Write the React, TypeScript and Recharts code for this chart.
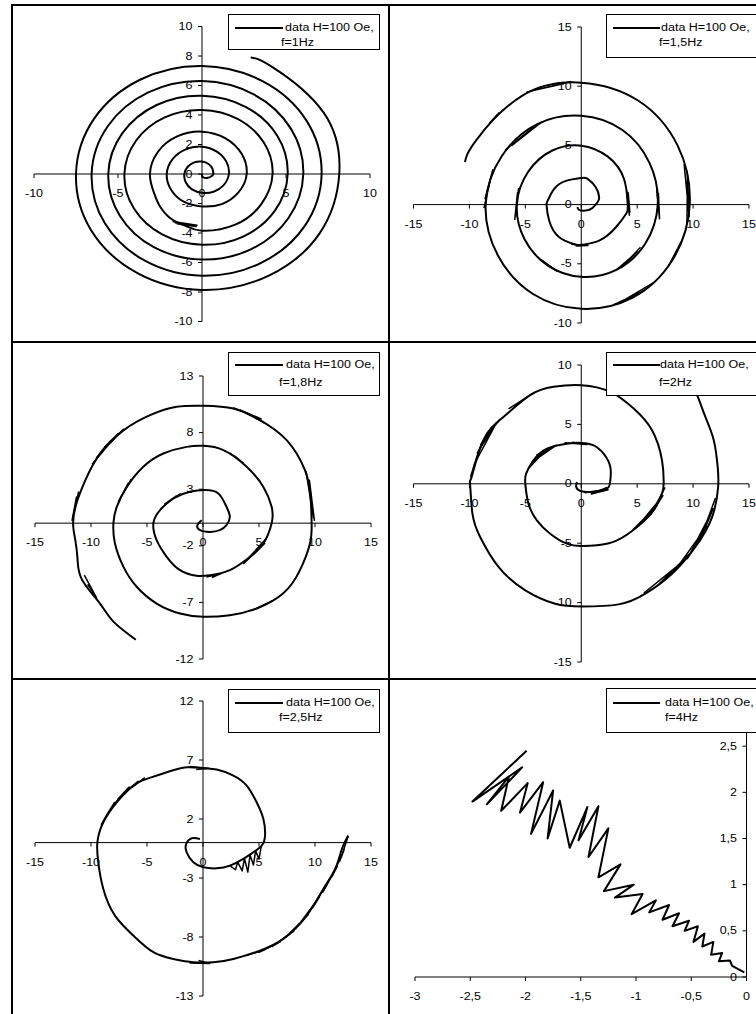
import React from 'react';
import { LineChart, Line, XAxis, YAxis, ReferenceLine, ReferenceDot } from 'recharts';

type Pt = [number, number];

// f = 1 Hz
const spiral1Hz: Pt[] = [
  [0, 0], [0.05, -0.2], [0.35, -0.26], [0.6, -0.12],
  [0.67, 0], [0.62, 0.36], [0.39, 0.68], [0, 0.84], [-0.46, 0.79], [-0.85, 0.49], [-1.05, 0], [-0.97, -0.56], [-0.6, -1.04], [0, -1.27], [0.69, -1.2], [1.29, -0.75],
  [1.6, 0], [1.45, 0.84], [0.88, 1.52], [0, 1.85], [-0.97, 1.67], [-1.75, 1.01], [-2.1, 0], [-1.84, -1.07], [-1.09, -1.88], [0, -2.2], [1.18, -2.04], [2.17, -1.25],
  [2.66, 0], [2.36, 1.37], [1.4, 2.42], [0, 2.87], [-1.48, 2.55], [-2.62, 1.51], [-3.1, 0], [-2.85, -1.3], [-2.5, -2.2], [-1.8, -3.07], [-1.0, -3.5],
  [0, -3.84], [1.98, -3.43], [3.53, -2.04],
  [4.2, 0], [3.68, 2.13], [2.15, 3.72], [0, 4.34], [-2.22, 3.84], [-3.92, 2.27], [-4.62, 0], [-4.05, -2.34], [-2.37, -4.1], [0, -4.8], [2.45, -4.24], [4.33, -2.5],
  [5.1, 0], [4.48, 2.59], [2.62, 4.54], [0, 5.31], [-2.7, 4.68], [-4.75, 2.75], [-5.58, 0], [-4.89, -2.83], [-2.87, -4.96], [0, -5.8], [2.94, -5.09], [5.15, -2.98],
  [6.03, 0], [5.3, 3.06], [3.11, 5.38], [0, 6.3], [-3.2, 5.53], [-5.61, 3.24], [-6.57, 0], [-5.78, -3.34], [-3.4, -5.88], [0, -6.9], [3.49, -6.04], [6.11, -3.53],
  [7.12, 0], [6.23, 3.6], [3.63, 6.28], [0, 7.32], [-3.69, 6.39], [-6.44, 3.72], [-7.5, 0], [-6.6, -3.81], [-3.87, -6.7], [0, -7.86], [3.98, -6.89], [6.99, -4.04],
  [8.17, 0], [7.23, 4.18], [4.19, 7.25], [2.9, 7.9],
];
const hairs1Hz: Pt[][] = [
  [[-1.75, -3.22], [-0.3, -3.48], [-1.6, -3.3], [-0.35, -3.56], [-1.5, -3.38]],
];

// f = 1,5 Hz
const spiral15Hz: Pt[] = [
  [-0.33, -0.2], [-0.2, -0.45], [0.42, -0.5], [1.0, -0.28], [1.46, 0.2], [1.6, 0.62], [1.3, 1.46], [0.57, 2.17], [0, 2.25], [-1.37, 2.0], [-2.42, 1.32], [-3.0, 0.34], [-3.1, -0.08], [-2.87, -1.35], [-1.97, -2.76], [-0.48, -3.38], [0, -3.4], [1.6, -3.04], [3.1, -1.91], [4.0, -0.79],
  [4.15, 0], [3.81, 2.2], [2.35, 4.07], [0, 4.98], [-2.63, 4.55], [-4.76, 2.75], [-5.76, 0], [-5.07, -2.93], [-2.98, -5.15], [0, -6.1], [3.18, -5.5], [5.72, -3.3],
  [6.84, 0], [6.1, 3.53], [3.65, 6.32], [0, 7.5], [-3.93, 6.8], [-7.1, 4.1], [-8.55, 0], [-7.45, -4.3], [-4.35, -7.53], [0, -8.8], [4.55, -7.88], [8.14, -4.7],
  [9.7, 0], [8.62, 4.98], [5.08, 8.79], [0, 10.3], [-5.3, 9.18], [-9.4, 5.43], [-10.4, 3.6],
];
const hairs15Hz: Pt[][] = [
  [[-0.9, 10.4], [-4.5, 9.6], [-1.6, 10.2], [-4.9, 9.5]],
  [[-7.3, 7.8], [-8.2, 6.9], [-7.5, 7.6]],
  [[-3.5, 7.0], [-6.2, 5.0], [-4.2, 6.6], [-6.8, 4.6]],
  [[-7.9, 3.0], [-8.6, 0.5], [-8.1, 2.2], [-8.7, -0.3]],
  [[-5.6, 1.4], [-5.9, -1.0], [-5.7, 1.0], [-5.95, -1.3]],
  [[4.05, 1.2], [4.3, -0.9], [4.2, 1.0], [4.35, -0.7]],
  [[6.75, 1.3], [7.0, -1.2], [6.9, 1.0]],
  [[9.2, 3.4], [9.65, -1.0], [9.5, 2.5], [9.45, -1.7]],
  [[8.95, -3.1], [7.85, -5.1], [8.65, -3.8]],
  [[6.55, -6.55], [3.4, -8.3], [5.65, -7.25], [2.9, -8.45]],
  [[-3.65, -4.6], [-2.2, -5.6], [-3.25, -4.9]],
  [[-0.9, -3.35], [0.6, -3.45], [-0.5, -3.5]],
  [[3.15, -5.5], [5.0, -4.0], [3.6, -5.3], [5.3, -3.6]],
];

// f = 1,8 Hz
const spiral18Hz: Pt[] = [
  [-0.12, 0.26], [-0.5, -0.18], [-0.27, -0.62], [0.63, -0.77], [1.5, -0.62], [2.1, -0.18], [2.4, 0.56], [2.1, 1.44], [1.37, 2.62], [0.18, 2.92], [-1.16, 2.77], [-2.65, 2.18], [-3.84, 1.15], [-4.43, 0], [-4.14, -1.5], [-3.24, -2.97], [-2.05, -4.15], [-0.57, -4.65], [0.63, -4.6], [2.4, -4.15], [4.2, -2.97], [5.39, -1.8],
  [6.13, 0], [6.13, 1.44], [5.39, 3.2], [3.9, 4.98], [1.82, 6.45], [0.03, 6.83], [-1.46, 6.74], [-3.54, 6.15], [-5.33, 4.98], [-6.8, 3.2], [-7.7, 1.44], [-8.0, 0], [-7.86, -1.8], [-7.1, -3.86], [-5.92, -5.62], [-4.14, -7.1], [-2.05, -7.98], [0, -8.27], [2.4, -8.13], [4.8, -7.54], [7.17, -6.2], [8.66, -4.15], [9.55, -1.8],
  [9.7, 0], [9.6, 2.4], [9.1, 4.68], [7.47, 7.33], [5.09, 9.1], [2.7, 10.13], [0, 10.37], [-2.35, 10.28], [-4.73, 9.54], [-7.1, 8.2], [-9.2, 6.15], [-10.5, 3.8], [-11.3, 1.74], [-11.6, 0], [-11.4, -1.5], [-11.2, -3.2], [-10.8, -5.0], [-9.2, -7.1], [-8.0, -8.7], [-6.0, -10.3],
];
const hairs18Hz: Pt[][] = [
  [[-9.9, 5.2], [-7.6, 7.9], [-9.5, 5.8], [-7.1, 8.3], [-8.8, 6.7]],
  [[-11.1, 2.8], [-11.6, 0.6], [-11.3, 2.3], [-11.7, 0.2]],
  [[2.7, 10.2], [5.2, 9.2], [3.3, 10.0], [5.6, 8.8]],
  [[9.2, 4.6], [9.85, 0.5], [9.5, 3.8], [9.95, 0.2]],
  [[4.3, -7.75], [6.2, -6.85], [4.8, -7.55]],
  [[-7.55, 1.9], [-6.7, 3.5], [-7.25, 2.45], [-6.4, 3.9]],
  [[-3.8, 1.25], [-2.4, 2.4], [-3.4, 1.7], [-2.0, 2.6]],
  [[3.6, -3.6], [5.5, -1.8], [4.0, -3.15], [5.65, -1.35]],
  [[-10.6, -4.6], [-9.5, -6.6], [-10.3, -5.4]],
  [[0.3, -4.75], [1.6, -4.45], [0.8, -4.8]],
  [[2.4, 6.2], [3.6, 5.3], [2.8, 5.95]],
];

// f = 2 Hz
const spiral2Hz: Pt[] = [
  [-0.39, 0.15], [-0.45, -0.27], [-0.09, -0.6], [0.8, -0.69], [1.85, -0.55], [2.45, -0.27], [2.6, 0.3], [2.6, 1.42], [2.0, 2.54], [1.1, 3.24], [0, 3.44], [-1.28, 3.38], [-3.07, 2.96], [-4.27, 1.98], [-4.93, 0.86], [-5.0, 0], [-4.72, -1.67], [-3.97, -3.08], [-2.78, -4.2], [-1.28, -5.04], [0, -5.24], [1.4, -5.18], [3.2, -4.76], [5.0, -3.64], [6.48, -2.23], [7.22, -0.83],
  [7.37, 0], [7.22, 1.98], [6.33, 4.51], [4.69, 6.33], [2.6, 7.74], [0, 8.3], [-2.48, 8.16], [-4.57, 7.46], [-6.96, 5.63], [-8.75, 3.67], [-9.8, 0.58], [-9.94, 0], [-9.73, -2.51], [-9.04, -4.48], [-7.4, -7.0], [-5.0, -8.97], [-2.33, -10.1], [0.06, -10.32], [3.34, -10.15], [5.73, -9.25], [8.12, -7.57], [10.2, -5.32], [11.7, -2.8],
  [12.24, -0.27], [12.2, 1.42], [11.85, 3.67], [11.1, 5.63], [10.36, 7.46], [9.6, 8.8],
];
const hairs2Hz: Pt[][] = [
  [[-9.6, 1.6], [-7.6, 5.1], [-9.3, 2.6], [-7.9, 4.7], [-9.0, 3.3], [-7.3, 5.4], [-8.6, 3.9]],
  [[-9.9, 0.6], [-9.05, 3.1], [-9.7, 1.2]],
  [[12.0, -1.2], [10.6, -4.8], [11.8, -2.1], [9.5, -6.3], [11.2, -3.6], [8.3, -7.4], [10.0, -5.6], [7.0, -8.4], [9.0, -6.6], [5.6, -9.2]],
  [[7.5, -0.3], [6.2, -2.6], [7.3, -1.0], [5.2, -3.4], [6.8, -1.8], [4.6, -3.9]],
  [[-4.65, 1.35], [-3.1, 2.9], [-4.38, 1.85], [-2.28, 3.22], [-4.0, 2.4]],
  [[0.3, -0.75], [2.4, -0.5], [0.9, -0.85], [2.3, -0.3]],
  [[-1.5, 3.45], [0.5, 3.3], [-0.8, 3.5]],
  [[-6.5, 6.3], [-4.2, 7.7], [-6.0, 6.6]],
];

// f = 2,5 Hz
const spiral25Hz: Pt[] = [
  [-0.27, 0.31], [-1.0, 0.37], [-1.5, -0.11], [-1.46, -0.82], [-0.86, -1.67], [0.03, -2.09], [1.22, -2.18], [2.41, -1.95], [3.6, -1.38], [4.49, -0.82], [5.24, -0.25], [5.54, 0.59], [5.39, 2.0], [4.79, 3.42], [3.9, 4.83], [2.71, 5.68], [1.22, 6.19], [0, 6.3], [-1.46, 6.38], [-3.24, 5.96], [-5.03, 5.4], [-6.22, 4.83], [-7.7, 3.42], [-8.9, 1.72], [-9.43, 0.03], [-9.35, -1.67], [-8.9, -3.93], [-7.86, -6.19], [-6.22, -7.88], [-4.43, -9.29], [-2.65, -9.86], [-0.86, -10.14], [0.92, -10.14], [2.71, -9.86], [5.09, -9.15], [7.17, -8.16], [9.26, -6.19], [10.74, -3.93], [11.8, -2.23], [12.4, -0.54], [12.8, 0.31], [12.98, 0.59],
];
const hairs25Hz: Pt[][] = [
  [[-9.1, 1.5], [-8.5, 2.5], [-8.8, 2.0], [-7.9, 3.4], [-8.3, 2.8], [-7.3, 4.0], [-7.6, 3.7], [-6.6, 4.7], [-7.0, 4.2], [-5.8, 5.2], [-6.3, 4.7], [-5.2, 5.5]],
  [[2.4, -1.95], [2.9, -2.3], [3.1, -1.65], [3.5, -2.4], [3.7, -1.35], [4.0, -2.5], [4.2, -1.05], [4.5, -1.9], [4.7, -0.7], [5.0, -1.4], [5.2, -0.3]],
  [[12.95, 0.5], [12.2, -1.6], [12.6, -0.6], [11.5, -2.9], [12.0, -2.0], [10.7, -4.2], [11.3, -3.1], [9.8, -5.5], [10.4, -4.6], [8.6, -6.9], [9.4, -6.1], [7.4, -8.0], [8.1, -7.5], [6.2, -8.8], [6.9, -8.4], [5.0, -9.3], [5.6, -9.05], [3.8, -9.6]],
  [[-1.2, 6.45], [0.5, 6.3], [-0.6, 6.2]],
  [[-1.2, -10.2], [0.6, -10.25], [-0.4, -10.0]],
];

// f = 4 Hz
const trace4Hz: Pt[] = [
  [-1.99, 2.45], [-2.48, 1.9], [-2.03, 2.27], [-2.35, 1.87], [-2.15, 2.17], [-2.22, 1.8], [-1.98, 2.1], [-2.05, 1.78], [-1.84, 2.11], [-1.95, 1.55], [-1.75, 2.02], [-1.8, 1.5], [-1.69, 1.91], [-1.6, 1.4], [-1.44, 1.84], [-1.52, 1.48], [-1.34, 1.85], [-1.43, 1.3], [-1.25, 1.61], [-1.34, 1.08], [-1.14, 1.22], [-1.29, 0.93], [-1.02, 1.0], [-1.19, 0.86], [-0.94, 0.9], [-1.04, 0.68], [-0.82, 0.83], [-0.88, 0.7], [-0.7, 0.78], [-0.76, 0.62], [-0.61, 0.69], [-0.67, 0.55], [-0.52, 0.61], [-0.56, 0.5], [-0.44, 0.55], [-0.48, 0.38], [-0.38, 0.47], [-0.4, 0.33], [-0.3, 0.38], [-0.32, 0.24], [-0.22, 0.26], [-0.25, 0.17], [-0.15, 0.18], [-0.13, 0.12], [-0.02, 0.05],
];

const ticksX10 = [-10, -5, 0, 5, 10];
const ticksY10 = [-10, -8, -6, -4, -2, 0, 2, 4, 6, 8, 10];
const ticksX15 = [-15, -10, -5, 0, 5, 10, 15];
const ticksY15 = [-10, -5, 0, 5, 10, 15];
const ticksY18 = [-12, -7, -2, 3, 8, 13];
const ticksY2 = [-15, -10, -5, 0, 5, 10];
const ticksY25 = [-13, -8, -3, 2, 7, 12];
const ticksX4 = [-3, -2.5, -2, -1.5, -1, -0.5, 0];
const ticksY4 = [0, 0.5, 1, 1.5, 2, 2.5];

const FONT = '"Liberation Sans", Arial, sans-serif';
const SX = 1.25;

const fmt = (v: number) => String(v).replace('.', ',');

const XTick = (props: any) => {
  const { cx, cy, label } = props;
  return (
    <g>
      <line x1={cx} y1={cy} x2={cx} y2={cy + 4} stroke="#000" />
      <text transform={`translate(${cx},${cy + 23}) scale(${SX},1)`} textAnchor="middle" fontSize={10} fontFamily={FONT} fill="#000">
        {label}
      </text>
    </g>
  );
};

const YTick = (props: any) => {
  const { cx, cy, label } = props;
  return (
    <g>
      <line x1={cx - 4} y1={cy} x2={cx} y2={cy} stroke="#000" />
      <text transform={`translate(${cx - 9.5},${cy + 3.6}) scale(${SX},1)`} textAnchor="end" fontSize={10} fontFamily={FONT} fill="#000">
        {label}
      </text>
    </g>
  );
};

interface LegendSpec {
  x: number;
  y: number;
  h: number;
  lineY: number;
  lineEnd: number;
  t1x: number;
  t2x: number;
  t2y: number;
}

interface PanelProps {
  left: number;
  top: number;
  margin: { top: number; right: number; bottom: number; left: number };
  xDomain: [number, number];
  yDomain: [number, number];
  xTicks: number[];
  yTicks: number[];
  points: Pt[];
  hairs?: Pt[][];
  curve: 'natural' | 'linear';
  freq: string;
  legend: LegendSpec;
}

const W = 377;
const H = 337;

const Panel: React.FC<PanelProps> = ({ left, top, margin, xDomain, yDomain, xTicks, yTicks, points, hairs = [], curve, freq, legend }) => {
  const rows = points.map(([x, y]) => ({ x, y }));
  // short strokes that thicken the trace; a null y ends each stroke
  const hairRows = hairs.flatMap((seg) => [
    ...seg.map(([x, y]) => ({ x, y })),
    { x: seg[seg.length - 1][0], y: null as number | null },
  ]);
  const textStyle: React.CSSProperties = {
    position: 'absolute',
    fontSize: 10,
    fontFamily: FONT,
    lineHeight: '12px',
    whiteSpace: 'nowrap',
    transform: `scaleX(${SX})`,
    transformOrigin: 'left center',
    color: '#000',
  };
  return (
    <div style={{ position: 'absolute', left, top, width: W, height: H }}>
      <LineChart width={W} height={H} data={rows} margin={margin}>
        <XAxis type="number" dataKey="x" domain={xDomain} hide allowDataOverflow />
        <YAxis type="number" domain={yDomain} hide allowDataOverflow />
        <ReferenceLine y={0} stroke="#000" ifOverflow="visible" />
        <ReferenceLine x={0} stroke="#000" ifOverflow="visible" />
        {xTicks.map((t) => (
          <ReferenceDot key={'x' + t} x={t} y={0} r={0} ifOverflow="visible" shape={(p: any) => <XTick {...p} label={fmt(t)} />} />
        ))}
        {yTicks.map((t) => (
          <ReferenceDot key={'y' + t} x={0} y={t} r={0} ifOverflow="visible" shape={(p: any) => <YTick {...p} label={fmt(t)} />} />
        ))}
        <Line
          type={curve}
          dataKey="y"
          stroke="#000"
          strokeWidth={2}
          strokeLinejoin="round"
          dot={false}
          activeDot={false}
          isAnimationActive={false}
        />
        {hairRows.length > 0 && (
          <Line
            data={hairRows}
            type="linear"
            dataKey="y"
            stroke="#000"
            strokeWidth={1.5}
            strokeLinejoin="round"
            dot={false}
            activeDot={false}
            legendType="none"
            isAnimationActive={false}
          />
        )}
      </LineChart>
      <div
        style={{
          position: 'absolute',
          left: legend.x - left,
          top: legend.y - top,
          width: 152,
          height: legend.h,
          boxSizing: 'border-box',
          border: '1px solid #000',
          background: '#fff',
        }}
      >
        <div style={{ position: 'absolute', left: 6, top: legend.lineY - 2, width: legend.lineEnd - 6, height: 2, background: '#000' }} />
        <span style={{ ...textStyle, left: legend.t1x - 1, top: legend.lineY - 7 }}>data H=100 Oe,</span>
        <span style={{ ...textStyle, left: legend.t2x - 1, top: legend.t2y - 7 }}>{freq}</span>
      </div>
    </div>
  );
};

const App: React.FC = () => {
  const hLine = (y: number): React.CSSProperties => ({ position: 'absolute', left: 11, top: y, width: 760, height: 2, background: '#000' });
  const vLine = (x: number): React.CSSProperties => ({ position: 'absolute', left: x, top: 4, width: 2, height: 1020, background: '#000' });
  return (
    <div style={{ position: 'absolute', left: 0, top: 0, width: 756, height: 1014, overflow: 'hidden', background: '#fff' }}>
      <Panel
        left={12}
        top={5}
        margin={{ left: 22, right: 19, top: 21.5, bottom: 20.5 }}
        xDomain={[-10, 10]}
        yDomain={[-10, 10]}
        xTicks={ticksX10}
        yTicks={ticksY10}
        points={spiral1Hz}
        hairs={hairs1Hz}
        curve="natural"
        freq="f=1Hz"
        legend={{ x: 228, y: 14, h: 36, lineY: 14.3, lineEnd: 54, t1x: 57, t2x: 53, t2y: 29 }}
      />
      <Panel
        left={389}
        top={5}
        margin={{ left: 24.5, right: 17, top: 22, bottom: 19 }}
        xDomain={[-15, 15]}
        yDomain={[-10, 15]}
        xTicks={ticksX15}
        yTicks={ticksY15}
        points={spiral15Hz}
        hairs={hairs15Hz}
        curve="natural"
        freq="f=1,5Hz"
        legend={{ x: 606, y: 14.3, h: 44, lineY: 14, lineEnd: 53, t1x: 55, t2x: 53, t2y: 28.7 }}
      />
      <Panel
        left={12}
        top={342}
        margin={{ left: 23, right: 18, top: 34, bottom: 20 }}
        xDomain={[-15, 15]}
        yDomain={[-12, 13]}
        xTicks={ticksX15}
        yTicks={ticksY18}
        points={spiral18Hz}
        hairs={hairs18Hz}
        curve="natural"
        freq="f=1,8Hz"
        legend={{ x: 228, y: 351.7, h: 44, lineY: 13.3, lineEnd: 54, t1x: 58, t2x: 51, t2y: 31 }}
      />
      <Panel
        left={389}
        top={342}
        margin={{ left: 24.5, right: 17, top: 23, bottom: 17 }}
        xDomain={[-15, 15]}
        yDomain={[-15, 10]}
        xTicks={ticksX15}
        yTicks={ticksY2}
        points={spiral2Hz}
        hairs={hairs2Hz}
        curve="natural"
        freq="f=2Hz"
        legend={{ x: 606, y: 351.7, h: 44.3, lineY: 13.3, lineEnd: 53, t1x: 54.3, t2x: 53.3, t2y: 31 }}
      />
      <Panel
        left={12}
        top={679}
        margin={{ left: 23, right: 18, top: 22, bottom: 20 }}
        xDomain={[-15, 15]}
        yDomain={[-13, 12]}
        xTicks={ticksX15}
        yTicks={ticksY25}
        points={spiral25Hz}
        hairs={hairs25Hz}
        curve="natural"
        freq="f=2,5Hz"
        legend={{ x: 228, y: 689.3, h: 44, lineY: 14, lineEnd: 54, t1x: 58, t2x: 51, t2y: 29 }}
      />
      <Panel
        left={389}
        top={679}
        margin={{ left: 26, right: 19.5, top: 21, bottom: 39 }}
        xDomain={[-3, 0]}
        yDomain={[0, 3]}
        xTicks={ticksX4}
        yTicks={ticksY4}
        points={trace4Hz}
        curve="linear"
        freq="f=4Hz"
        legend={{ x: 606, y: 688.3, h: 45, lineY: 14.4, lineEnd: 53, t1x: 58.6, t2x: 58.6, t2y: 30 }}
      />
      <div style={vLine(11)} />
      <div style={vLine(388)} />
      <div style={hLine(4)} />
      <div style={hLine(341)} />
      <div style={hLine(678)} />
    </div>
  );
};

export default App;
